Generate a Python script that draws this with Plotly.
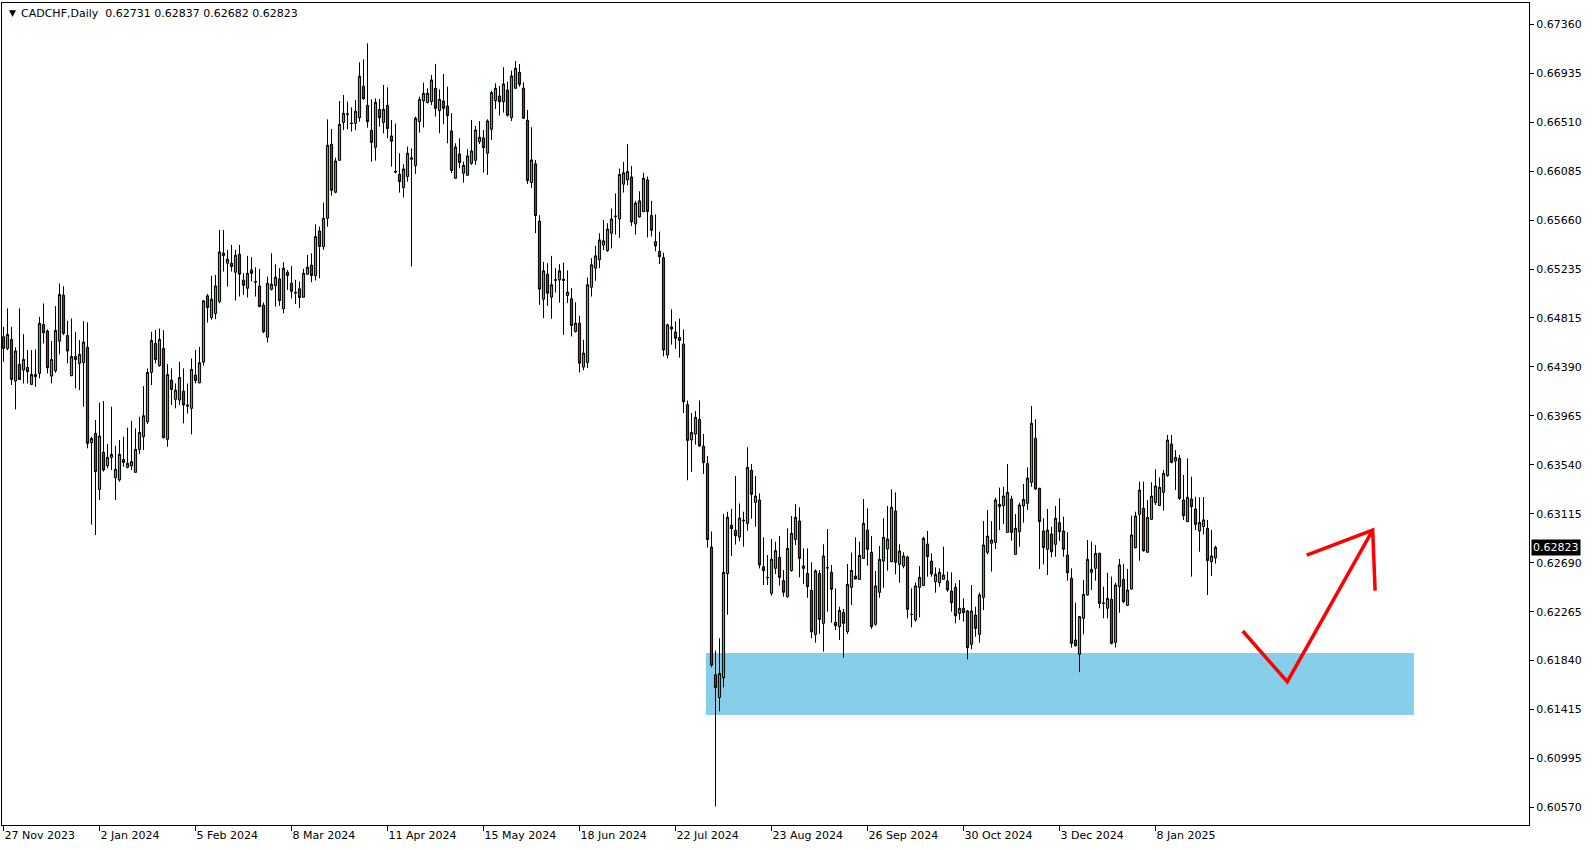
import plotly.graph_objects as go

# ---------------- data (CADCHF daily candles) ----------------
opens = [
0.64650,0.64549,0.64627,0.64266,0.64410,0.64361,0.64384,0.64237,0.64303,0.64332,
0.64757,0.64699,0.64309,0.64355,0.64612,0.65011,0.64662,0.64312,0.64479,0.64419,
0.64427,0.64558,0.63731,0.63812,0.63326,0.63647,0.63531,0.63604,0.63428,0.63408,
0.63586,0.63517,0.63529,0.63474,0.63673,0.63783,0.63913,0.64341,0.64592,0.64399,
0.64549,0.63760,0.64274,0.64107,0.64101,0.64178,0.64058,0.64029,0.64318,0.64251,
0.64430,0.65005,0.64817,0.64852,0.64956,0.65355,0.65288,0.65288,0.65210,0.65366,
0.65141,0.65071,0.65230,0.65129,0.65091,0.64924,0.64646,0.65062,0.65094,0.65152,
0.64893,0.65210,0.65115,0.65036,0.65066,0.64993,0.65193,0.65271,0.65181,0.65568,
0.65433,0.65678,0.66320,0.65904,0.66181,0.66508,0.66580,0.66505,0.66502,0.66551,
0.66823,0.66658,0.66441,0.66294,0.66623,0.66510,0.66658,0.66392,0.66083,0.66060,
0.65944,0.66040,0.66190,0.66135,0.66517,0.66696,0.66681,0.66690,0.66806,0.66612,
0.66696,0.66652,0.66436,0.66025,0.66236,0.66069,0.66051,0.66155,0.66181,0.66343,
0.66375,0.66242,0.66450,0.66699,0.66739,0.66690,0.66791,0.66551,0.66806,0.66944,
0.66806,0.66528,0.65988,0.66150,0.65653,0.64976,0.65193,0.64994,0.65144,0.65144,
0.65150,0.65008,0.64979,0.64696,0.64768,0.64387,0.64427,0.65080,0.65245,0.65318,
0.65446,0.65398,0.65548,0.65694,0.65672,0.65974,0.66011,0.66036,0.65628,0.65690,
0.65737,0.66011,0.65701,0.65475,0.65391,0.65336,0.64491,0.64735,0.64691,0.64644,
0.64586,0.64061,0.63755,0.63806,0.63933,0.63700,0.63550,0.62825,0.61717,0.61520,
0.61691,0.62595,0.63015,0.62971,0.62912,0.63058,0.63031,0.63491,0.63213,0.63234,
0.62655,0.62563,0.62424,0.62641,0.62736,0.62534,0.62395,0.62621,0.62892,0.63051,
0.62641,0.62597,0.62450,0.62068,0.62597,0.62164,0.62647,0.62606,0.62172,0.62135,
0.62259,0.62091,0.62476,0.62574,0.62545,0.62727,0.62973,0.62780,0.62155,0.62433,
0.62704,0.62809,0.62699,0.63138,0.62676,0.62661,0.62739,0.62242,0.62193,0.62476,
0.62491,0.62852,0.62704,0.62525,0.62516,0.62545,0.62531,0.62444,0.62476,0.62250,
0.62294,0.62271,0.61981,0.62236,0.62068,0.62389,0.62780,0.62858,0.62866,0.63176,
0.63185,0.62953,0.63242,0.62762,0.62959,0.63182,0.63205,0.63387,0.63769,0.63335,
0.62965,0.62806,0.62939,0.62849,0.63037,0.62965,0.62756,0.62554,0.62019,0.61895,
0.62207,0.62410,0.62606,0.62641,0.62771,0.62340,0.62294,0.62372,0.61999,0.62482,
0.62545,0.62320,0.62461,0.62820,0.63109,0.63161,0.62780,0.63066,0.63211,0.63185,
0.63300,0.63445,0.63719,0.63572,0.63595,0.63234,0.63046,0.63242,0.63156,0.62965,
0.63003,0.62988,0.62699,0.62731]

highs = [
0.64737,0.64896,0.64737,0.64558,0.64896,0.64673,0.64534,0.64534,0.64540,0.64823,
0.64939,0.64714,0.64612,0.64916,0.65112,0.65089,0.64789,0.64809,0.64693,0.64621,
0.64786,0.64774,0.63783,0.63928,0.64078,0.64092,0.63719,0.64043,0.63702,0.63754,
0.63783,0.63861,0.63922,0.63855,0.63956,0.64222,0.64375,0.64693,0.64708,0.64722,
0.64708,0.64413,0.64375,0.64245,0.64433,0.64375,0.64245,0.64462,0.64534,0.64563,
0.64970,0.65022,0.65178,0.65187,0.65577,0.65577,0.65404,0.65447,0.65404,0.65447,
0.65201,0.65352,0.65340,0.65253,0.65239,0.64947,0.65172,0.65375,0.65279,0.65245,
0.65297,0.65230,0.65265,0.65144,0.65129,0.65239,0.65360,0.65375,0.65626,0.65606,
0.65814,0.66536,0.66453,0.66204,0.66695,0.66747,0.66690,0.66640,0.66704,0.67031,
0.67057,0.67195,0.66710,0.66719,0.66713,0.66834,0.66814,0.66531,0.66500,0.66242,
0.66147,0.66300,0.66285,0.66560,0.66733,0.66855,0.66806,0.66921,0.67017,0.66797,
0.66930,0.66820,0.66589,0.66329,0.66372,0.66170,0.66277,0.66531,0.66479,0.66522,
0.66444,0.66537,0.66785,0.66849,0.66826,0.66988,0.66863,0.66959,0.67043,0.67017,
0.66858,0.66618,0.66468,0.66184,0.65705,0.65300,0.65288,0.65352,0.65245,0.65280,
0.65294,0.65225,0.65072,0.64950,0.64832,0.64624,0.65164,0.65332,0.65440,0.65548,
0.65664,0.65635,0.65763,0.65894,0.66109,0.66167,0.66321,0.66131,0.65829,0.65912,
0.66073,0.66040,0.65829,0.65712,0.65562,0.65380,0.64764,0.64888,0.64782,0.64808,
0.64713,0.64097,0.63988,0.64006,0.64097,0.63806,0.63616,0.62960,0.61928,0.62034,
0.63113,0.63131,0.63157,0.63441,0.63204,0.63132,0.63691,0.63546,0.63442,0.63291,
0.62910,0.62756,0.62895,0.62872,0.62921,0.62626,0.62988,0.63095,0.63199,0.63170,
0.62814,0.62814,0.62693,0.62632,0.62626,0.62849,0.62982,0.62670,0.62467,0.62308,
0.62288,0.62678,0.62777,0.62910,0.62872,0.63242,0.63161,0.62921,0.62618,0.62835,
0.63075,0.63182,0.63326,0.63300,0.62849,0.62780,0.62751,0.62467,0.62516,0.62661,
0.62915,0.62965,0.62771,0.62649,0.62641,0.62829,0.62612,0.62606,0.62511,0.62540,
0.62380,0.62280,0.62496,0.62308,0.62430,0.63051,0.63147,0.63051,0.63254,0.63341,
0.63349,0.63546,0.63271,0.63112,0.63211,0.63372,0.63517,0.64049,0.63934,0.63340,
0.63075,0.63156,0.63002,0.63182,0.63248,0.63089,0.62953,0.62641,0.62343,0.62225,
0.62540,0.62887,0.62872,0.62843,0.62777,0.62482,0.62603,0.62569,0.62517,0.62722,
0.62678,0.62635,0.63098,0.63132,0.63393,0.63393,0.63234,0.63387,0.63500,0.63430,
0.63494,0.63798,0.63798,0.63667,0.63624,0.63451,0.63595,0.63436,0.63262,0.63257,
0.63260,0.63061,0.62974,0.62837]

lows = [
0.64433,0.64534,0.64231,0.64020,0.64274,0.64245,0.64245,0.64231,0.64216,0.64289,
0.64592,0.64332,0.64245,0.64338,0.64497,0.64664,0.64419,0.64309,0.64202,0.64187,
0.64043,0.63682,0.63020,0.62930,0.63234,0.63480,0.63508,0.63494,0.63234,0.63393,
0.63523,0.63508,0.63494,0.63471,0.63633,0.63667,0.63893,0.64231,0.64419,0.64390,
0.63768,0.63696,0.64058,0.64029,0.64058,0.63899,0.63985,0.63803,0.64245,0.64245,
0.64400,0.64774,0.64797,0.64803,0.64941,0.65216,0.65086,0.65216,0.64964,0.64999,
0.65013,0.64990,0.65129,0.64999,0.64907,0.64681,0.64600,0.65051,0.64912,0.64918,
0.64852,0.65057,0.64982,0.64935,0.64898,0.64990,0.65187,0.65123,0.65138,0.65158,
0.65404,0.65606,0.65875,0.65895,0.66178,0.66444,0.66450,0.66430,0.66444,0.66516,
0.66704,0.66464,0.66169,0.66178,0.66473,0.66415,0.66372,0.66126,0.66068,0.65901,
0.65858,0.65996,0.65260,0.66063,0.66421,0.66465,0.66676,0.66661,0.66560,0.66416,
0.66494,0.66329,0.66069,0.66022,0.66112,0.65988,0.66048,0.66141,0.66141,0.66323,
0.66075,0.66054,0.66358,0.66626,0.66569,0.66595,0.66560,0.66522,0.66800,0.66820,
0.66540,0.65976,0.65939,0.65549,0.64927,0.64812,0.64918,0.64806,0.65034,0.64947,
0.64667,0.64942,0.64653,0.64687,0.64340,0.64360,0.64378,0.64999,0.65136,0.65245,
0.65402,0.65387,0.65417,0.65537,0.65508,0.65901,0.65963,0.65610,0.65537,0.65683,
0.65730,0.65511,0.65519,0.65391,0.65282,0.64480,0.64462,0.64582,0.64545,0.64469,
0.63988,0.63405,0.63478,0.63714,0.63696,0.63459,0.62821,0.61783,0.60575,0.61400,
0.61608,0.62238,0.62749,0.62847,0.62876,0.62829,0.62968,0.63072,0.63002,0.62640,
0.62496,0.62496,0.62404,0.62592,0.62490,0.62395,0.62386,0.62612,0.62843,0.62563,
0.62505,0.62386,0.62034,0.61996,0.62071,0.61918,0.62265,0.62169,0.62106,0.62019,
0.61866,0.62071,0.62323,0.62545,0.62540,0.62722,0.62664,0.62115,0.62143,0.62386,
0.62473,0.62621,0.62693,0.62589,0.62516,0.62641,0.62207,0.62129,0.62178,0.62216,
0.62488,0.62569,0.62569,0.62430,0.62482,0.62540,0.62438,0.62265,0.62164,0.62193,
0.62178,0.61851,0.61938,0.62048,0.61996,0.62279,0.62762,0.62612,0.62809,0.62973,
0.63025,0.62950,0.62881,0.62760,0.62829,0.63037,0.63147,0.63349,0.63320,0.62635,
0.62675,0.62583,0.62736,0.62742,0.62878,0.62742,0.62534,0.61953,0.61961,0.61740,
0.62068,0.62404,0.62453,0.62534,0.62294,0.62207,0.62207,0.61981,0.61955,0.62256,
0.62337,0.62314,0.62458,0.62814,0.62707,0.62785,0.62777,0.63060,0.63190,0.63182,
0.63141,0.63436,0.63552,0.63320,0.63234,0.63060,0.63043,0.62569,0.62973,0.62785,
0.62936,0.62410,0.62575,0.62682]

closes = [
0.64549,0.64670,0.64280,0.64526,0.64280,0.64453,0.64347,0.64323,0.64323,0.64766,
0.64685,0.64381,0.64453,0.64705,0.65017,0.64679,0.64526,0.64479,0.64453,0.64497,
0.64604,0.63725,0.63768,0.63480,0.63789,0.63494,0.63604,0.63630,0.63500,0.63630,
0.63560,0.63552,0.63566,0.63673,0.63821,0.63965,0.64341,0.64618,0.64453,0.64627,
0.63774,0.64323,0.64193,0.64187,0.64297,0.64058,0.64049,0.64367,0.64269,0.64425,
0.64961,0.64904,0.64976,0.65091,0.65386,0.65375,0.65323,0.65259,0.65357,0.65193,
0.65097,0.65201,0.65201,0.65125,0.64912,0.64693,0.65115,0.65106,0.65167,0.64964,
0.65245,0.65181,0.65045,0.65030,0.64990,0.65201,0.65253,0.65181,0.65519,0.65433,
0.65678,0.66311,0.65921,0.66175,0.66493,0.66589,0.66583,0.66500,0.66606,0.66909,
0.66716,0.66516,0.66337,0.66684,0.66551,0.66623,0.66456,0.66346,0.66080,0.65996,
0.66106,0.66242,0.66202,0.66546,0.66710,0.66762,0.66762,0.66878,0.66632,0.66710,
0.66632,0.66569,0.66092,0.66297,0.66161,0.66138,0.66219,0.66262,0.66444,0.66381,
0.66291,0.66522,0.66768,0.66806,0.66690,0.66843,0.66572,0.66913,0.66979,0.66840,
0.66546,0.66005,0.66184,0.65702,0.65063,0.65222,0.65028,0.65101,0.65141,0.65222,
0.65138,0.65037,0.64748,0.64768,0.64421,0.64508,0.65101,0.65274,0.65352,0.65490,
0.65482,0.65584,0.65672,0.65696,0.66058,0.66073,0.66084,0.65646,0.65810,0.65829,
0.66025,0.65737,0.65573,0.65438,0.65344,0.64535,0.64753,0.64717,0.64637,0.64618,
0.64086,0.63751,0.63820,0.63951,0.63703,0.63558,0.62891,0.61801,0.61608,0.61728,
0.62606,0.63084,0.62985,0.62923,0.63077,0.63054,0.63517,0.63283,0.63268,0.62670,
0.62621,0.62560,0.62719,0.62794,0.62563,0.62433,0.62814,0.62944,0.63083,0.62727,
0.62661,0.62482,0.62091,0.62618,0.62198,0.62748,0.62645,0.62459,0.62143,0.62276,
0.62164,0.62502,0.62623,0.62548,0.62754,0.63031,0.62806,0.62135,0.62488,0.62719,
0.62910,0.62895,0.63170,0.62693,0.62791,0.62748,0.62285,0.62240,0.62488,0.62563,
0.62901,0.62742,0.62592,0.62589,0.62606,0.62583,0.62453,0.62343,0.62230,0.62294,
0.62256,0.61952,0.62271,0.62120,0.62410,0.62843,0.62921,0.62887,0.63234,0.63196,
0.63268,0.63300,0.62953,0.62988,0.63190,0.63239,0.63424,0.63899,0.63329,0.63046,
0.62820,0.62973,0.62785,0.63075,0.62959,0.62806,0.62603,0.61990,0.61970,0.62222,
0.62415,0.62719,0.62632,0.62771,0.62337,0.62337,0.62380,0.61990,0.62496,0.62670,
0.62352,0.62453,0.62930,0.63095,0.63320,0.62794,0.63083,0.63268,0.63355,0.63344,
0.63465,0.63754,0.63560,0.63604,0.63248,0.63098,0.63257,0.63176,0.63022,0.63040,
0.63061,0.62708,0.62748,0.62823]

# x-axis: bar index of each date label
date_tick_bars = [0, 24, 48, 72, 96, 120, 144, 168, 192, 216, 240, 264, 288]
date_tick_text = ["27 Nov 2023", "2 Jan 2024", "5 Feb 2024", "8 Mar 2024", "11 Apr 2024",
                  "15 May 2024", "18 Jun 2024", "22 Jul 2024", "23 Aug 2024", "26 Sep 2024",
                  "30 Oct 2024", "3 Dec 2024", "8 Jan 2025"]

price_ticks = [0.67360, 0.66935, 0.66510, 0.66085, 0.65660, 0.65235, 0.64815, 0.64390,
               0.63965, 0.63540, 0.63115, 0.62690, 0.62265, 0.61840, 0.61415, 0.60995, 0.60570]

header_ohlc = [0.62731, 0.62837, 0.62682, 0.62823]
last_price = 0.62823

# support zone (bar index span, price span)
zone_bars = [175.6, 352.6]
zone_prices = [0.61368, 0.61906]

# hand-drawn red arrow (bar index, price)
arrow_bars = [309.8, 320.95, 342.3, 325.8, 342.9]
arrow_prices = [0.62097, 0.61657, 0.62973, 0.62756, 0.62447]

# ---------------- figure ----------------
bars = list(range(len(opens)))
FONT = "DejaVu Sans"

fig = go.Figure()
fig.add_trace(go.Candlestick(
    x=bars, open=opens, high=highs, low=lows, close=closes,
    increasing=dict(fillcolor="#1ED21E", line=dict(color="black", width=1)),
    decreasing=dict(fillcolor="#D41010", line=dict(color="black", width=1)),
    whiskerwidth=0, showlegend=False, hoverinfo="skip",
))

shapes = [
    dict(type="rect", xref="x", yref="y", x0=zone_bars[0], x1=zone_bars[1],
         y0=zone_prices[0], y1=zone_prices[1], fillcolor="#87CEEB",
         line=dict(width=0), layer="below"),
]
ax, ay = arrow_bars, arrow_prices
path = (f"M {ax[0]},{ay[0]} L {ax[1]},{ay[1]} L {ax[2]},{ay[2]} "
        f"M {ax[3]},{ay[3]} L {ax[2]},{ay[2]} L {ax[4]},{ay[4]}")
shapes.append(dict(type="path", xref="x", yref="y", path=path,
                   line=dict(color="#FF0000", width=3.5), layer="above"))

nb = "\u00a0"
header = ("CADCHF,Daily" + nb * 2 + nb.join(f"{v:.5f}" for v in header_ohlc))

annotations = [
    dict(xref="paper", yref="paper", x=0, y=1, xanchor="left", yanchor="middle",
         xshift=5, yshift=-10, text="▼", showarrow=False,
         font=dict(family=FONT, size=9, color="black")),
    dict(xref="paper", yref="paper", x=0, y=1, xanchor="left", yanchor="middle",
         xshift=17, yshift=-10, text=header, showarrow=False,
         font=dict(family=FONT, size=11, color="black")),
    dict(xref="paper", yref="y", x=1, y=last_price, xanchor="left", yanchor="middle",
         xshift=2, text=f"{last_price:.5f}", showarrow=False, bgcolor="black",
         borderpad=1, font=dict(family=FONT, size=11, color="white")),
]

fig.update_layout(
    width=1594, height=850,
    margin=dict(l=2, r=65, t=3, b=25),
    paper_bgcolor="white", plot_bgcolor="white",
    boxgap=0.22,
    shapes=shapes, annotations=annotations,
    xaxis=dict(
        range=[-0.375, 381.375], rangeslider=dict(visible=False),
        tickmode="array", tickvals=date_tick_bars, ticktext=date_tick_text,
        ticks="outside", ticklen=5, tickcolor="black", tickwidth=1,
        ticklabelposition="outside right",
        tickfont=dict(family=FONT, size=11, color="black"),
        showgrid=False, zeroline=False, showline=True, linecolor="black",
        linewidth=1, mirror=True, fixedrange=True,
    ),
    yaxis=dict(
        side="right", range=[0.604140, 0.675457],
        tickmode="array", tickvals=price_ticks,
        ticktext=[f"{v:.5f}" for v in price_ticks],
        ticks="outside", ticklen=4, tickcolor="black", tickwidth=1,
        tickfont=dict(family=FONT, size=11, color="black"),
        showgrid=False, zeroline=False, showline=True, linecolor="black",
        linewidth=1, mirror=True, fixedrange=True,
    ),
)

fig.write_html(
    "out.html",
    config={"displayModeBar": False},
    post_script="document.body.style.margin='0';document.body.style.padding='0';",
)
